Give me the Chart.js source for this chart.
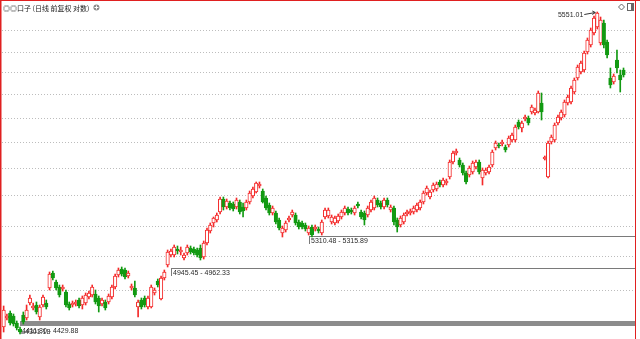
<!DOCTYPE html>
<html>
<head>
<meta charset="utf-8">
<script src="https://cdn.jsdelivr.net/npm/chart.js@4.4.1/dist/chart.umd.min.js"></script>
<style>
  html, body { margin: 0; padding: 0; background: #fff; }
  canvas { display: block; }
</style>
</head>
<body>
<canvas id="chart" width="640" height="339"></canvas>
<script>
// daily candles, values
const opens = [4292,4328,4348,4336,4308,4284,4340,4328,4388,4368,4380,4332,4380,4388,4448,4508,4472,4452,4444,4432,
  4384,4380,4384,4400,4380,4388,4412,4420,4424,4408,4384,4392,4392,4412,4452,4500,4524,4520,4496,4448,
  4448,4372,4400,4408,4372,4372,4428,4476,4404,4488,4540,4580,4580,4604,4592,4568,4588,4608,4604,4600,
  4608,4572,4628,4676,4708,4720,4752,4804,4772,4788,4784,4772,4792,4772,4768,4792,4816,4832,4856,4836,
  4808,4780,4748,4748,4720,4668,4680,4720,4740,4740,4712,4708,4700,4668,4692,4684,4684,4668,4732,4736,
  4712,4708,4716,4732,4748,4764,4760,4748,4784,4752,4748,4740,4760,4768,4800,4788,4772,4800,4760,4768,
  4720,4700,4712,4744,4748,4752,4760,4768,4792,4828,4812,4840,4844,4872,4860,4868,4892,4952,4988,4960,
  4940,4908,4900,4912,4932,4952,4888,4908,4912,4940,5008,5020,5024,5012,5020,5040,5040,5112,5088,5124,
  5128,5152,5148,5152,5188,4964,4892,5032,5040,5108,5128,5140,5188,5192,5232,5288,5312,5320,5392,5420,
  5468,5492,5428,5508,5432,5288,5272,5360,5300,5320];
const highs = [4376,4344,4356,4344,4316,4292,4352,4380,4420,4388,4392,4380,4420,4400,4512,4516,4480,4460,4460,4440,
  4392,4396,4400,4408,4416,4428,4436,4460,4440,4416,4408,4400,4424,4460,4504,4528,4532,4528,4516,4464,
  4476,4400,4408,4416,4416,4460,4448,4484,4496,4520,4600,4604,4620,4616,4612,4588,4620,4616,4612,4608,
  4620,4636,4688,4708,4732,4748,4812,4812,4804,4796,4792,4808,4800,4788,4800,4836,4852,4872,4872,4844,
  4816,4788,4776,4756,4728,4696,4716,4736,4760,4748,4720,4716,4708,4696,4700,4700,4692,4720,4768,4768,
  4740,4736,4744,4760,4776,4772,4768,4776,4792,4760,4756,4776,4800,4816,4808,4796,4808,4808,4780,4776,
  4728,4736,4748,4760,4764,4776,4788,4800,4836,4856,4840,4868,4872,4880,4888,4884,4960,4996,5004,4968,
  4948,4916,4936,4956,4960,4960,4928,4928,4940,5000,5036,5028,5040,5020,5056,5068,5100,5120,5116,5140,
  5136,5180,5168,5236,5228,4976,5036,5060,5108,5140,5160,5200,5220,5256,5288,5340,5356,5396,5448,5488,
  5536,5552,5532,5520,5440,5328,5304,5400,5320,5328];
const lows = [4272,4320,4300,4296,4280,4264,4304,4320,4380,4360,4344,4320,4372,4364,4440,4480,4440,4412,4436,4372,
  4360,4372,4376,4368,4364,4380,4404,4412,4384,4352,4376,4360,4384,4404,4444,4492,4496,4484,4488,4440,
  4412,4332,4364,4372,4364,4368,4420,4452,4400,4480,4532,4572,4572,4584,4580,4560,4580,4584,4580,4572,
  4560,4564,4620,4668,4692,4712,4744,4760,4764,4760,4756,4764,4744,4732,4760,4784,4808,4828,4848,4788,
  4760,4740,4740,4704,4680,4652,4672,4712,4732,4700,4684,4684,4676,4660,4652,4676,4668,4660,4724,4728,
  4704,4700,4708,4724,4740,4740,4744,4740,4768,4724,4700,4732,4752,4760,4772,4764,4764,4772,4752,4700,
  4672,4692,4704,4736,4740,4744,4752,4760,4784,4820,4804,4832,4836,4852,4852,4860,4884,4944,4980,4932,
  4900,4864,4892,4904,4924,4904,4860,4900,4904,4932,5000,5008,5016,4992,5012,5032,5032,5084,5072,5116,
  5100,5144,5140,5148,5120,4960,4888,5024,5032,5100,5120,5132,5180,5184,5224,5280,5304,5312,5384,5412,
  5460,5484,5420,5408,5368,5248,5264,5308,5232,5292];
const closes = [4360,4336,4308,4304,4288,4272,4312,4360,4408,4376,4352,4372,4412,4372,4504,4488,4448,4420,4452,4380,
  4368,4388,4392,4376,4408,4420,4428,4452,4392,4376,4400,4368,4416,4452,4496,4520,4504,4492,4508,4456,
  4420,4392,4372,4380,4408,4452,4440,4460,4488,4512,4592,4596,4612,4596,4600,4580,4612,4592,4588,4580,
  4568,4628,4680,4700,4728,4740,4804,4772,4796,4768,4764,4800,4752,4756,4792,4828,4844,4868,4864,4792,
  4768,4748,4768,4712,4688,4688,4708,4728,4752,4708,4692,4692,4684,4688,4660,4692,4676,4712,4760,4760,
  4732,4728,4736,4752,4768,4748,4752,4768,4776,4732,4720,4768,4792,4808,4780,4772,4800,4780,4772,4712,
  4692,4728,4740,4752,4756,4768,4780,4792,4828,4848,4832,4860,4864,4860,4880,4876,4952,4988,4996,4940,
  4908,4872,4928,4948,4952,4912,4920,4920,4932,4992,5028,5016,5032,5000,5048,5060,5092,5092,5108,5132,
  5108,5172,5160,5228,5152,4972,5028,5052,5100,5132,5152,5192,5212,5248,5280,5332,5348,5388,5440,5480,
  5528,5548,5520,5420,5380,5260,5296,5328,5280,5300];

// three empty slots keep the grid running to the right border
const days = Array.from({ length: opens.length + 3 }, (_, i) => String(i + 1));

// dotted price grid
const gridValues = [5476, 5392, 5312, 5224, 5128, 5028, 4928, 4816, 4696, 4576, 4440];

// price gaps (缺口)
const gapStart = [5, 51, 93];
const gapLow = [4296, 4528, 4658];
const gapHigh = [4316, 4528, 4658];
const gapText = ['4411.80 - 4429.88', '4945.45 - 4962.33', '5310.48 - 5315.89'];

const title = '◎◎口子 (日线 前复权 对数)';
const highText = '5551.01';
const lowText = '4301.18';

const RED = '#f42a2a';
const GREEN = '#129a12';

const isUp = opens.map((o, i) => closes[i] >= o);
const bodies = opens.map((o, i) => [Math.min(o, closes[i]), Math.max(o, closes[i])]);
const wicks = lows.map((l, i) => [l, highs[i]]);

const gapPlugin = {
    id: 'gaps',
    beforeDatasetsDraw(chart) {
        const { ctx, chartArea, scales: { x, y } } = chart;
        ctx.save();
        gapStart.forEach((start, i) => {
            const x1 = Math.round(x.getPixelForValue(start));
            const yTop = Math.round(y.getPixelForValue(gapHigh[i]));
            const yBot = Math.round(y.getPixelForValue(gapLow[i]));
            const h = Math.max(1, yBot - yTop);
            ctx.fillStyle = h > 2 ? '#8c8c8c' : '#7a7a7a';
            ctx.fillRect(x1, yTop, chartArea.right - x1, h);
            if (h <= 2) {
                ctx.fillRect(x1, yTop, 1, 8);
            }
        });
        ctx.restore();
    },
    afterDraw(chart) {
        const { ctx, scales: { x, y } } = chart;
        ctx.save();
        ctx.fillStyle = '#2a2a2a';
        ctx.font = '7px "Liberation Sans", Arial, sans-serif';
        ctx.textBaseline = 'middle';
        gapStart.forEach((start, i) => {
            const x1 = Math.round(x.getPixelForValue(start));
            const yBot = Math.round(y.getPixelForValue(gapLow[i]));
            ctx.fillText(gapText[i], x1 + 2, yBot + 5.5);
        });

        // highest and lowest marks
        let hi = 0, lo = 0;
        highs.forEach((v, i) => { if (v > highs[hi]) hi = i; });
        lows.forEach((v, i) => { if (v < lows[lo]) lo = i; });
        const hx = x.getPixelForValue(hi), hy = y.getPixelForValue(highs[hi]);
        ctx.strokeStyle = '#333';
        ctx.lineWidth = 1;
        ctx.beginPath();
        ctx.moveTo(hx - 13, hy + 2.5);
        ctx.lineTo(hx - 2, hy + 0.5);
        ctx.moveTo(hx - 5, hy - 1);
        ctx.lineTo(hx - 2, hy + 0.5);
        ctx.lineTo(hx - 5, hy + 2.5);
        ctx.stroke();
        ctx.textAlign = 'right';
        ctx.fillText(highText, hx - 14, hy + 3);

        const lx = x.getPixelForValue(lo), ly = y.getPixelForValue(lows[lo]);
        ctx.textAlign = 'left';
        ctx.beginPath();
        ctx.moveTo(lx + 1, ly - 1);
        ctx.lineTo(lx + 5, ly - 1);
        ctx.stroke();
        ctx.fillText(lowText, lx + 5, ly - 1.5);

        // title
        ctx.fillStyle = '#1a1a1a';
        ctx.font = '7px "Noto Sans CJK SC", sans-serif';
        ctx.fillText(title, 3, 8);
        const tw = ctx.measureText(title).width;
        ctx.fillStyle = '#888';
        ctx.beginPath();
        ctx.arc(3 + tw + 7, 7.5, 3, 0, Math.PI * 2);
        ctx.fill();
        ctx.fillStyle = '#fff';
        ctx.fillRect(3 + tw + 5, 7, 4, 1);
        ctx.fillRect(3 + tw + 6.5, 5.5, 1, 4);

        // small tool icons at top right
        ctx.strokeStyle = '#666';
        ctx.beginPath();
        ctx.moveTo(621.5, 4); ctx.lineTo(624.5, 7); ctx.lineTo(621.5, 10); ctx.lineTo(618.5, 7); ctx.closePath();
        ctx.stroke();
        ctx.strokeRect(627.5, 3.5, 6, 7);
        ctx.fillStyle = '#666';
        ctx.fillRect(631, 4, 2, 6);

        // red frame
        ctx.fillStyle = '#e02020';
        ctx.fillRect(0, 0, 640, 1);
        ctx.fillRect(0, 0, 1.5, 339);
        ctx.fillRect(635, 0, 1, 339);
        ctx.restore();
    }
};

new Chart(document.getElementById('chart'), {
    type: 'bar',
    data: {
        labels: days,
        datasets: [
            {
                label: 'wick',
                data: wicks,
                backgroundColor: isUp.map(u => u ? RED : GREEN),
                barThickness: 1,
                grouped: false,
                order: 2
            },
            {
                label: 'body',
                data: bodies,
                backgroundColor: isUp.map(u => u ? '#ffffff' : GREEN),
                borderColor: isUp.map(u => u ? RED : GREEN),
                borderWidth: 1,
                borderSkipped: false,
                barThickness: 3.5,
                grouped: false,
                order: 1
            }
        ]
    },
    options: {
        responsive: false,
        animation: false,
        devicePixelRatio: 1,
        layout: { padding: { left: 2, right: 5, top: 0, bottom: 0 } },
        plugins: { legend: { display: false }, tooltip: { enabled: false } },
        scales: {
            x: { display: false, offset: true },
            y: {
                min: 4244,
                max: 5600,
                ticks: { display: false },
                grid: { color: '#bdbdbd', lineWidth: 1, drawTicks: false },
                border: { display: false, dash: [1, 2] },
                afterBuildTicks: s => { s.ticks = gridValues.map(v => ({ value: v })); },
                afterFit: s => { s.width = 0; }
            }
        }
    },
    plugins: [gapPlugin]
});
</script>
</body>
</html>
